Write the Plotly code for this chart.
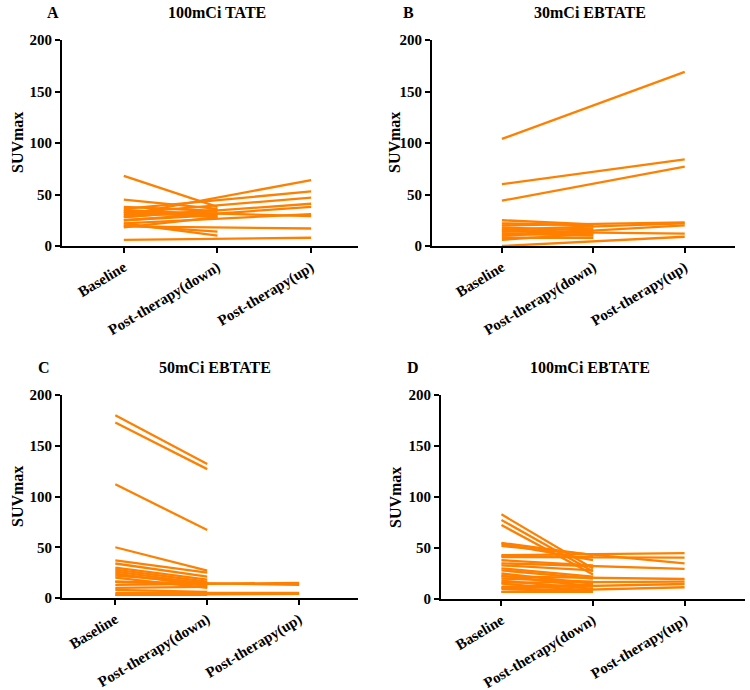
import plotly.graph_objects as go

categories = ["Baseline", "Post-therapy(down)", "Post-therapy(up)"]
y_ticks = [0, 50, 100, 150, 200]

# Panel A: 100mCi TATE
a_base_down = [68, 45, 38, 35, 33, 30, 28, 25, 22, 20, 18]
a_down = [38, 36, 34, 30, 28, 32, 35, 30, 10, 14, 28]
a_base_up = [30, 36, 32, 28, 25, 22, 34, 19, 6]
a_up = [64, 53, 47, 41, 38, 31, 29, 17, 8]

# Panel B: 30mCi EBTATE
b_base_down = [25, 22, 18, 16, 14, 12, 10, 8, 6]
b_down = [21, 20, 15, 12, 17, 10, 14, 8, 12]
b_base_up = [104, 60, 44, 20, 16, 14, 0, 10]
b_up = [169, 84, 77, 23, 22, 12, 9, 20]

# Panel C: 50mCi EBTATE
c_base_down = [180, 173, 112, 50, 37, 34, 30, 28, 26, 24, 22, 20, 16, 10, 8, 3]
c_down = [132, 127, 67, 27, 25, 21, 18, 16, 14, 12, 15, 10, 13, 11, 6, 3]
c_base_up = [13, 16, 5, 3]
c_up = [15, 13, 5, 4]

# Panel D: 100mCi EBTATE
d_base_down = [83, 77.5, 72.5, 55, 54, 42, 38, 33, 30, 28, 25, 23, 20, 18, 15, 12, 10, 7]
d_down = [30, 27, 24, 43, 38, 41, 33, 28, 22, 20, 15, 12, 17, 10, 8, 14, 9, 7]
d_base_up = [43, 41, 52, 35, 22, 16, 11, 7]
d_up = [45, 40.5, 35, 29.5, 19.6, 17, 14.7, 11.5]

panels = [
    ("A", "100mCi TATE", a_base_down, a_down, a_base_up, a_up),
    ("B", "30mCi EBTATE", b_base_down, b_down, b_base_up, b_up),
    ("C", "50mCi EBTATE", c_base_down, c_down, c_base_up, c_up),
    ("D", "100mCi EBTATE", d_base_down, d_down, d_base_up, d_up),
]

W, H = 750, 690
# pixel layout (left, right, top, bottom) and x ranges
boxes = [(62, 358, 40, 246), (432, 735, 40, 246), (62, 358, 395, 598), (441, 745, 395, 599)]
xranges = [[-0.66, 2.5], [-0.765, 2.55], [-0.58, 2.64], [-0.66, 2.66]]
letter_pos = [(53, 12), (408, 12), (44, 367), (413, 367)]
title_pos = [(217, 12), (590, 12), (215, 367), (590, 367)]
ylab_pos = [(17, 143), (394, 143), (17, 497), (395, 497)]

FONT = "Liberation Serif"
ORANGE = "#FF8000"

fig = go.Figure()
annotations = []
for i, (letter, title, bd, dn, bu, up) in enumerate(panels):
    sfx = "" if i == 0 else str(i + 1)
    xs, ys = [], []
    for b, d in zip(bd, dn):
        xs += [0, 1, None]
        ys += [b, d, None]
    for b, u in zip(bu, up):
        xs += [0, 2, None]
        ys += [b, u, None]
    fig.add_trace(go.Scatter(x=xs, y=ys, mode="lines",
                             line=dict(color=ORANGE, width=2.3),
                             xaxis="x" + sfx, yaxis="y" + sfx,
                             showlegend=False, hoverinfo="skip"))
    l, r, t, b = boxes[i]
    axis_common = dict(showline=True, linecolor="black", linewidth=2,
                       ticks="outside", tickcolor="black", tickwidth=2, ticklen=5,
                       showgrid=False, zeroline=False, automargin=False)
    fig.layout["xaxis" + sfx] = dict(domain=[l / W, r / W], range=xranges[i],
                                     anchor="y" + sfx, tickvals=[0, 1, 2],
                                     ticktext=categories, tickangle=-31,
                                     tickfont=dict(family=FONT, size=15, color="black", weight="bold"),
                                     **axis_common)
    fig.layout["yaxis" + sfx] = dict(domain=[1 - b / H, 1 - t / H], range=[0, 200],
                                     anchor="x" + sfx, tickvals=y_ticks,
                                     tickfont=dict(family=FONT, size=15, color="black", weight="bold"),
                                     **axis_common)
    lx, ly = letter_pos[i]
    tx, ty = title_pos[i]
    yx, yy = ylab_pos[i]
    for (px, py, txt, ang) in [(lx, ly, letter, 0), (tx, ty, title, 0), (yx, yy, "SUVmax", -90)]:
        annotations.append(dict(x=px / W, y=1 - py / H, xref="paper", yref="paper",
                                xanchor="center", yanchor="middle",
                                text=txt, showarrow=False, textangle=ang,
                                font=dict(family=FONT, size=16, color="black", weight="bold")))

fig.update_layout(width=W, height=H, margin=dict(l=0, r=0, t=0, b=0, pad=0),
                  paper_bgcolor="white", plot_bgcolor="white",
                  annotations=annotations)
fig.write_html("out.html", config={"displayModeBar": False},
               post_script="document.documentElement.style.margin='0';document.documentElement.style.overflow='hidden';"
                           "document.body.style.margin='0';document.body.style.padding='0';document.body.style.overflow='hidden';")
